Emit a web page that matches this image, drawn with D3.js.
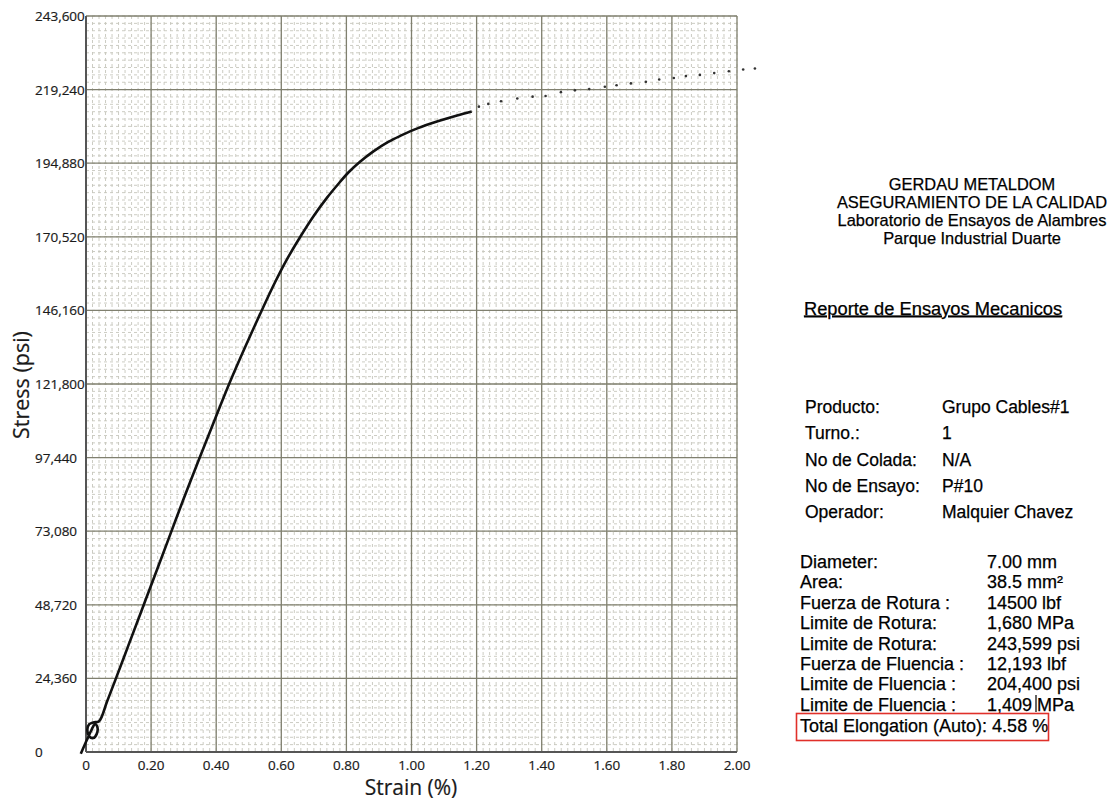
<!DOCTYPE html>
<html>
<head>
<meta charset="utf-8">
<script src="https://cdn.jsdelivr.net/npm/d3@7"></script>
<style>
  body { margin: 0; background: #fff; }
  .axis-lbl { font-family: "Open Sans", sans-serif; fill: #1a1a1a; stroke: #1a1a1a; stroke-width: 0.2px; }
  .info { font-family: "Liberation Sans", Arial, sans-serif; fill: #000; stroke: #000; stroke-width: 0.25px; }
</style>
</head>
<body>
<svg id="chart"></svg>
<script>
'use strict';

// strain (%) / stress (psi)
var curve_strain = [-0.016, -0.004, 0.008, 0.018, 0.028, 0.035, 0.033, 0.022, 0.010, 0.004, 0.010, 0.022, 0.040,
                    0.065, 0.09, 0.13, 0.17, 0.21, 0.256, 0.30, 0.347, 0.39, 0.44, 0.49, 0.535, 0.58, 0.616, 0.657,
                    0.70, 0.74, 0.775, 0.806, 0.84, 0.883, 0.93, 0.965, 1.02, 1.088, 1.14, 1.185];
var curve_stress = [-600, 2400, 5200, 7600, 9200, 8200, 6000, 4600, 5200, 7400, 9200, 9800, 10200,
                    16800, 23800, 35200, 46600, 58000, 71200, 83800, 96800, 108500, 121900, 134300, 145000, 155300, 162800, 170300,
                    177500, 183400, 188000, 191800, 195200, 198800, 202000, 203900, 206500, 209000, 210700, 212000];

var tail_strain = [1.207, 1.236, 1.275, 1.325, 1.372, 1.412, 1.459, 1.502, 1.546, 1.594, 1.630, 1.674, 1.720,
                   1.761, 1.806, 1.843, 1.886, 1.930, 1.975, 2.019, 2.055];
var tail_stress = [213600, 214500, 215400, 216300, 216900, 217100, 218400, 219000, 219400, 220200, 220700, 221300, 221800,
                   222600, 223100, 223700, 224100, 224700, 225300, 225900, 226200];

var x_ticks = [0, 0.2, 0.4, 0.6, 0.8, 1.0, 1.2, 1.4, 1.6, 1.8, 2.0];
var y_ticks = [0, 24360, 48720, 73080, 97440, 121800, 146160, 170520, 194880, 219240, 243600];

var header_lines = ["GERDAU METALDOM", "ASEGURAMIENTO DE LA CALIDAD", "Laboratorio de Ensayos de Alambres", "Parque Industrial Duarte"];
var report_title = "Reporte de Ensayos Mecanicos";
var info_keys = ["Producto:", "Turno.:", "No de Colada:", "No de Ensayo:", "Operador:"];
var info_vals = ["Grupo Cables#1", "1", "N/A", "P#10", "Malquier Chavez"];
var prop_keys = ["Diameter:", "Area:", "Fuerza de Rotura :", "Limite de Rotura:", "Limite de Rotura:",
                 "Fuerza de Fluencia :", "Limite de Fluencia :", "Limite de Fluencia :"];
var prop_vals = ["7.00 mm", "38.5 mm²", "14500 lbf", "1,680 MPa", "243,599 psi", "12,193 lbf", "204,400 psi", "1,409 MPa"];
var elongation = "Total Elongation (Auto): 4.58 %";

function draw_chart() {
    var width = 1112,
        height = 800,
        left = 86, right = 737, top = 16, bottom = 752;

    var svg = d3.select("#chart")
                .attr("width", width)
                .attr("height", height);

    var x = d3.scaleLinear().domain([0, 2]).range([left, right]);
    var y = d3.scaleLinear().domain([0, 243600]).range([bottom, top]);

    // minor grid, 10 per major step
    var minor_x = d3.range(0, 101).map(function(i) { return i * 0.02; });
    var minor_y = d3.range(0, 101).map(function(i) { return i * 2436; });

    var grid = svg.append("g");
    grid.selectAll(".mx").data(minor_x).enter().append("line")
        .attr("x1", function(d) { return x(d); }).attr("x2", function(d) { return x(d); })
        .attr("y1", top).attr("y2", bottom)
        .attr("stroke", "#c6c6bc").attr("stroke-dasharray", "3,3").attr("stroke-width", 0.9);
    grid.selectAll(".my").data(minor_y).enter().append("line")
        .attr("y1", function(d) { return y(d); }).attr("y2", function(d) { return y(d); })
        .attr("x1", left).attr("x2", right)
        .attr("stroke", "#c6c6bc").attr("stroke-dasharray", "3,3").attr("stroke-width", 0.9);

    grid.selectAll(".Mx").data(x_ticks).enter().append("line")
        .attr("x1", function(d) { return x(d); }).attr("x2", function(d) { return x(d); })
        .attr("y1", top).attr("y2", bottom)
        .attr("stroke", "#80806f").attr("stroke-width", 1.3);
    grid.selectAll(".My").data(y_ticks).enter().append("line")
        .attr("y1", function(d) { return y(d); }).attr("y2", function(d) { return y(d); })
        .attr("x1", left).attr("x2", right)
        .attr("stroke", "#80806f").attr("stroke-width", 1.3);

    svg.append("line").attr("x1", left).attr("x2", left).attr("y1", top).attr("y2", bottom)
        .attr("stroke", "#555").attr("stroke-width", 2);
    svg.append("line").attr("x1", left).attr("x2", right).attr("y1", bottom).attr("y2", bottom)
        .attr("stroke", "#555").attr("stroke-width", 2);

    // tick labels
    svg.selectAll(".yl").data(y_ticks).enter().append("text")
        .attr("class", "axis-lbl")
        .attr("x", 35).attr("y", function(d) { return y(d) + 5; })
        .attr("font-size", 13.5)
        .text(function(d) { return d3.format(",")(d); });

    svg.selectAll(".xl").data(x_ticks).enter().append("text")
        .attr("class", "axis-lbl")
        .attr("x", function(d) { return x(d); }).attr("y", 770)
        .attr("text-anchor", "middle")
        .attr("font-size", 13.5)
        .text(function(d) { return d === 0 ? "0" : d3.format(".2f")(d); });

    svg.append("text").attr("class", "axis-lbl")
        .attr("x", 411).attr("y", 795).attr("text-anchor", "middle")
        .attr("font-size", 21).text("Strain (%)");
    svg.append("text").attr("class", "axis-lbl")
        .attr("transform", "translate(29," + 385 + ") rotate(-90)")
        .attr("text-anchor", "middle")
        .attr("font-size", 21.5).text("Stress (psi)");

    // curve
    var pts = curve_strain.map(function(s, i) { return [s, curve_stress[i]]; });
    var line = d3.line()
                 .x(function(d) { return x(d[0]); })
                 .y(function(d) { return y(d[1]); })
                 .curve(d3.curveCatmullRom.alpha(0.5));
    svg.append("path")
        .attr("d", line(pts))
        .attr("fill", "none")
        .attr("stroke", "#111")
        .attr("stroke-width", 2.6)
        .attr("stroke-linejoin", "round");

    svg.selectAll(".tail").data(tail_strain).enter().append("circle")
        .attr("cx", function(d) { return x(d); })
        .attr("cy", function(d, i) { return y(tail_stress[i]); })
        .attr("r", 1.3)
        .attr("fill", "#333");

    // report panel
    var info = svg.append("g");

    info.selectAll(".hd").data(header_lines).enter().append("text")
        .attr("class", "info")
        .attr("x", 972).attr("y", function(d, i) { return 189.5 + i * 18.3; })
        .attr("text-anchor", "middle").attr("font-size", 16.4)
        .text(function(d) { return d; });

    info.append("text").attr("class", "info")
        .attr("x", 804).attr("y", 314.5).attr("font-size", 18.3)
        .attr("text-decoration", "underline")
        .text(report_title);

    info.selectAll(".ik").data(info_keys).enter().append("text")
        .attr("class", "info")
        .attr("x", 805).attr("y", function(d, i) { return 413 + i * 26.25; })
        .attr("font-size", 17.5)
        .text(function(d) { return d; });
    info.selectAll(".iv").data(info_vals).enter().append("text")
        .attr("class", "info")
        .attr("x", 942).attr("y", function(d, i) { return 413 + i * 26.25; })
        .attr("font-size", 17.5)
        .text(function(d) { return d; });

    info.selectAll(".pk").data(prop_keys).enter().append("text")
        .attr("class", "info")
        .attr("x", 800).attr("y", function(d, i) { return 568 + i * 20.4; })
        .attr("font-size", 18)
        .text(function(d) { return d; });
    info.selectAll(".pv").data(prop_vals).enter().append("text")
        .attr("class", "info")
        .attr("x", 987).attr("y", function(d, i) { return 568 + i * 20.4; })
        .attr("font-size", 18)
        .text(function(d) { return d; });

    // text cursor mark after "1,409 M"
    info.append("line").attr("x1", 1036).attr("x2", 1036).attr("y1", 695).attr("y2", 712)
        .attr("stroke", "#111").attr("stroke-width", 1.3);

    info.append("text").attr("class", "info")
        .attr("x", 800).attr("y", 731.5).attr("font-size", 18)
        .text(elongation);
    info.append("rect")
        .attr("x", 796.5).attr("y", 713.5).attr("width", 252).attr("height", 27)
        .attr("fill", "none").attr("stroke", "#e0302a").attr("stroke-width", 1.6);
}

draw_chart();
</script>
</body>
</html>
